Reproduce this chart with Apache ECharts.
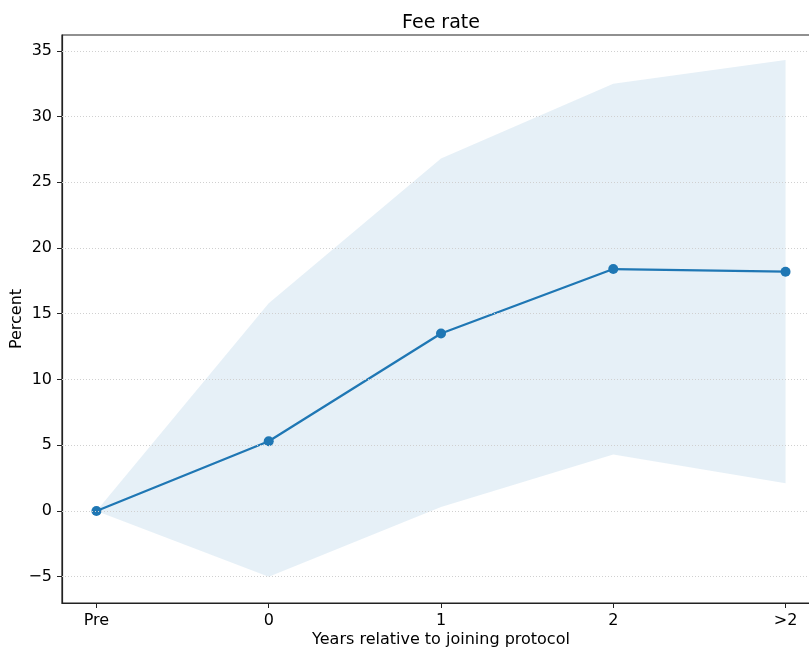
<!DOCTYPE html>
<html>
<head>
<meta charset="utf-8">
<script src="https://cdn.jsdelivr.net/npm/echarts@6/dist/echarts.min.js"></script>
<style>
  html, body { margin: 0; padding: 0; background: #fff; }
  #chart { width: 809px; height: 649px; }
</style>
</head>
<body>
<div id="chart"></div>
<script>
// Fee rate by years relative to joining the protocol
const categories = ['Pre', '0', '1', '2', '>2'];
const estimate = [0, 5.3, 13.5, 18.4, 18.2];
const lowerCI = [0, -5.0, 0.3, 4.3, 2.1];
const upperCI = [0, 15.8, 26.8, 32.5, 34.3];
const yTicks = [-5, 0, 5, 10, 15, 20, 25, 30, 35];

const positions = categories.map((_, i) => i);
const FONT = 'DejaVu Sans';
const BLUE = '#1f77b4';

const chart = echarts.init(document.getElementById('chart'), null, { renderer: 'canvas' });

// Shaded confidence band: one polygon along the upper bound and back along the lower bound
function renderBand(params, api) {
  if (params.dataIndex !== 0) return null;
  const top = positions.map(i => api.coord([i, upperCI[i]]));
  const bottom = positions.map(i => api.coord([i, lowerCI[i]])).reverse();
  return {
    type: 'polygon',
    shape: { points: top.concat(bottom) },
    style: { fill: 'rgba(31,119,180,0.11)' },
    silent: true
  };
}

chart.setOption({
  animation: false,
  backgroundColor: '#fff',
  title: {
    text: 'Fee rate',
    left: 436,
    top: 9,
    textAlign: 'center',
    textStyle: { fontFamily: FONT, fontSize: 19, fontWeight: 'normal', color: '#000' }
  },
  grid: {
    left: 62, top: 35, width: 758, height: 568,
    containLabel: false,
    outerBoundsMode: 'none',
    show: true, borderColor: '#222', borderWidth: 1.2, backgroundColor: 'transparent'
  },
  xAxis: {
    type: 'value',
    min: -0.2,
    max: 4.2,
    name: 'Years relative to joining protocol',
    nameLocation: 'middle',
    nameGap: 29,
    nameMoveOverlap: false,
    nameTextStyle: { fontFamily: FONT, fontSize: 16, color: '#000' },
    axisLine: { show: true, onZero: false, lineStyle: { color: '#222', width: 1.2 } },
    axisTick: { show: true, customValues: positions, length: 5, lineStyle: { color: '#222' } },
    axisLabel: {
      customValues: positions,
      margin: 10,
      fontFamily: FONT, fontSize: 16, color: '#000',
      formatter: v => categories[Math.round(v)]
    },
    splitLine: { show: false }
  },
  yAxis: {
    type: 'value',
    min: -7,
    max: 36.2,
    name: 'Percent',
    nameLocation: 'middle',
    nameGap: 37,
    nameMoveOverlap: false,
    nameTextStyle: { fontFamily: FONT, fontSize: 16, color: '#000' },
    axisLine: { show: true, onZero: false, lineStyle: { color: '#222', width: 1.2 } },
    axisTick: { show: true, customValues: yTicks, length: 5, lineStyle: { color: '#222' } },
    axisLabel: {
      customValues: yTicks,
      margin: 10,
      fontFamily: FONT, fontSize: 16, color: '#000',
      formatter: v => (v < 0 ? '\u2212' + Math.abs(v) : String(v))
    },
    splitLine: { show: false }
  },
  series: [
    {
      // horizontal dotted grid lines at the y ticks
      type: 'line',
      data: [],
      silent: true,
      markLine: {
        silent: true,
        symbol: 'none',
        label: { show: false },
        lineStyle: { color: '#d0d0d0', type: [1, 2], width: 1 },
        data: yTicks.map(v => ({ yAxis: v }))
      }
    },
    {
      type: 'custom',
      renderItem: renderBand,
      data: positions.map(i => [i, lowerCI[i], upperCI[i]]),
      encode: { x: 0, y: [1, 2] },
      silent: true,
      z: 1
    },
    {
      type: 'line',
      data: positions.map(i => [i, estimate[i]]),
      symbol: 'circle',
      symbolSize: 10,
      lineStyle: { color: BLUE, width: 2.3 },
      itemStyle: { color: BLUE },
      z: 3
    }
  ]
});
</script>
</body>
</html>
